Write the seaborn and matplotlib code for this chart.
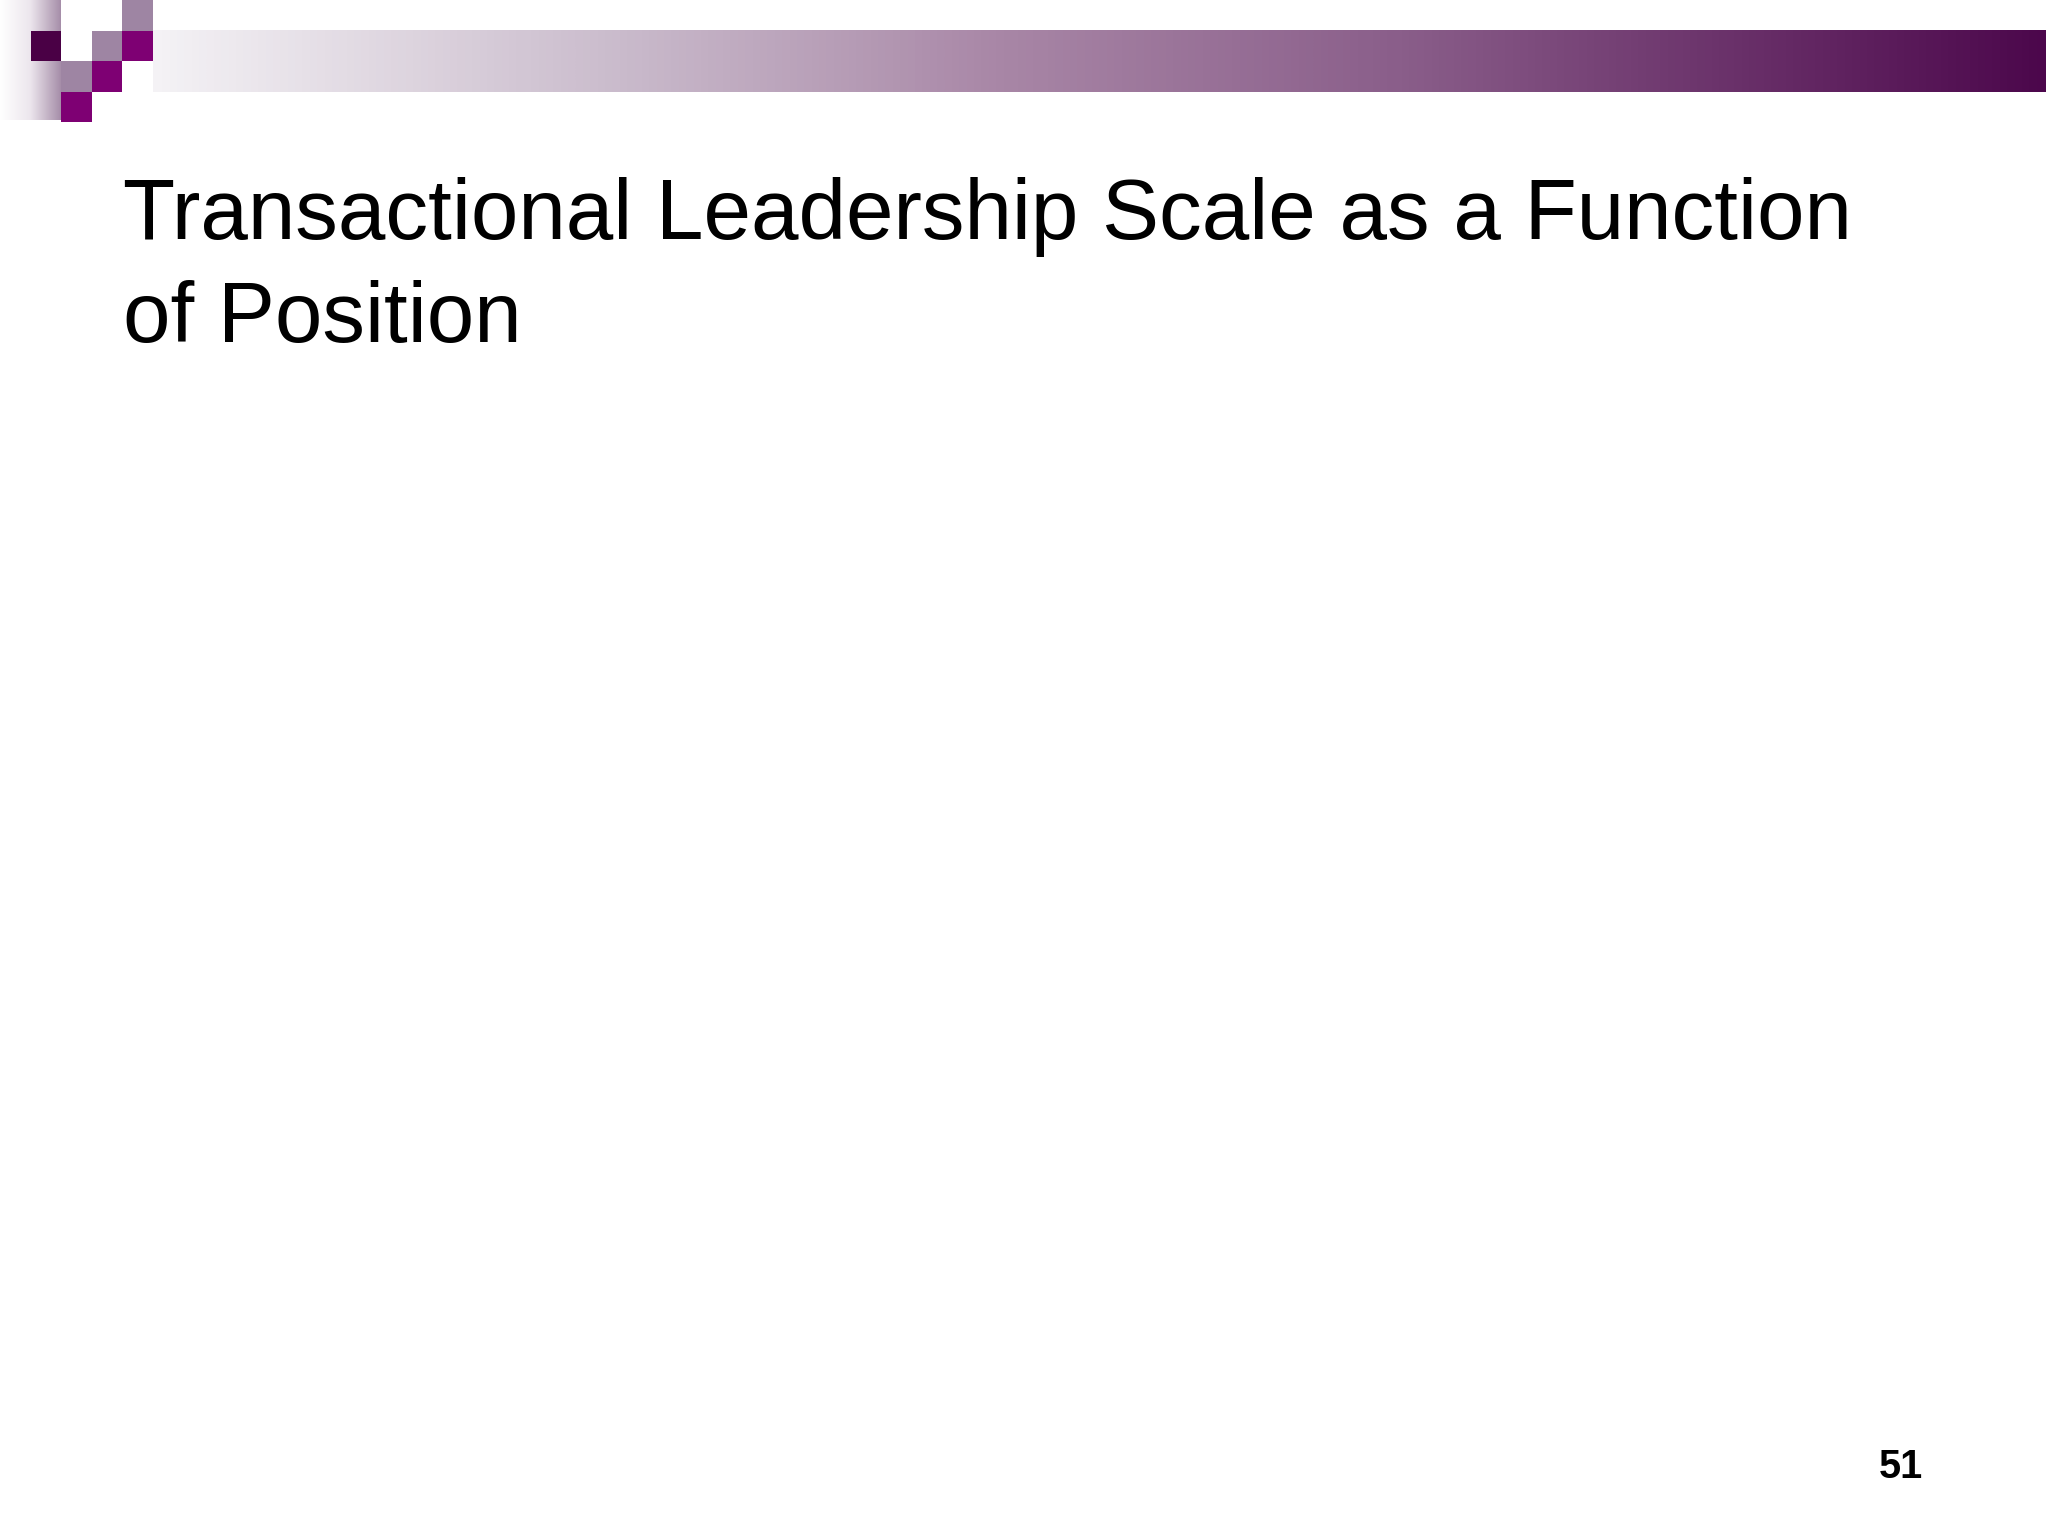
import matplotlib
matplotlib.use("Agg")
import matplotlib.pyplot as plt
from matplotlib.colors import LinearSegmentedColormap
import numpy as np
import seaborn as sns

# slide text
title_lines = ["Transactional Leadership Scale as a Function", "of Position"]
page_number = "51"

# header bar gradient stops (position along bar, colour)
bar_stops = [0.0, 0.25, 0.45, 0.66, 1.0]
bar_colors = ["#f4f2f5", "#c9bacb", "#a886a6", "#8a5e8a", "#4c074c"]

# decorative squares: (column, row, colour) on a 31px grid
square_cells = [(4, 0, "#9e85a3"), (1, 1, "#4a0045"), (3, 1, "#9e85a3"),
                (4, 1, "#7e0073"), (2, 2, "#9e85a3"), (3, 2, "#7e0073"),
                (2, 3, "#7e0073")]

sns.set_theme(style="white")
plt.rcParams['font.family'] = ['Liberation Sans', 'DejaVu Sans']

W, H = 2048, 1536
fig = plt.figure(figsize=(W / 100, H / 100), dpi=100)
ax = fig.add_axes([0, 0, 1, 1])
ax.set_xlim(0, W)
ax.set_ylim(H, 0)
ax.axis('off')

# horizontal header bar
cmap = LinearSegmentedColormap.from_list("bar", list(zip(bar_stops, bar_colors)))
grad = np.linspace(0, 1, 512).reshape(1, -1)
ax.imshow(grad, cmap=cmap, aspect='auto', extent=[153, 2046, 92, 30],
          interpolation='bilinear', zorder=1)

# left vertical fade strip
fade = LinearSegmentedColormap.from_list("fade", ["#ffffff", "#ece6ed", "#a68ea9"])
ax.imshow(np.linspace(0, 1, 128).reshape(1, -1), cmap=fade, aspect='auto',
          extent=[0, 61, 120, 0], interpolation='bilinear', zorder=1)

cell = 30.6
for col, row, c in square_cells:
    ax.add_patch(plt.Rectangle((col * cell, row * cell), cell, cell,
                               facecolor=c, edgecolor='none', zorder=2))

ax.text(123, 239, title_lines[0], fontsize=61.5, color='black',
        ha='left', va='baseline', zorder=3)
ax.text(123, 342, title_lines[1], fontsize=61.5, color='black',
        ha='left', va='baseline', zorder=3)

ax.text(1901, 1478, page_number, fontsize=28.5, fontweight='bold', color='black',
        ha='center', va='baseline', zorder=3)

fig.savefig("out.png", dpi=100)
